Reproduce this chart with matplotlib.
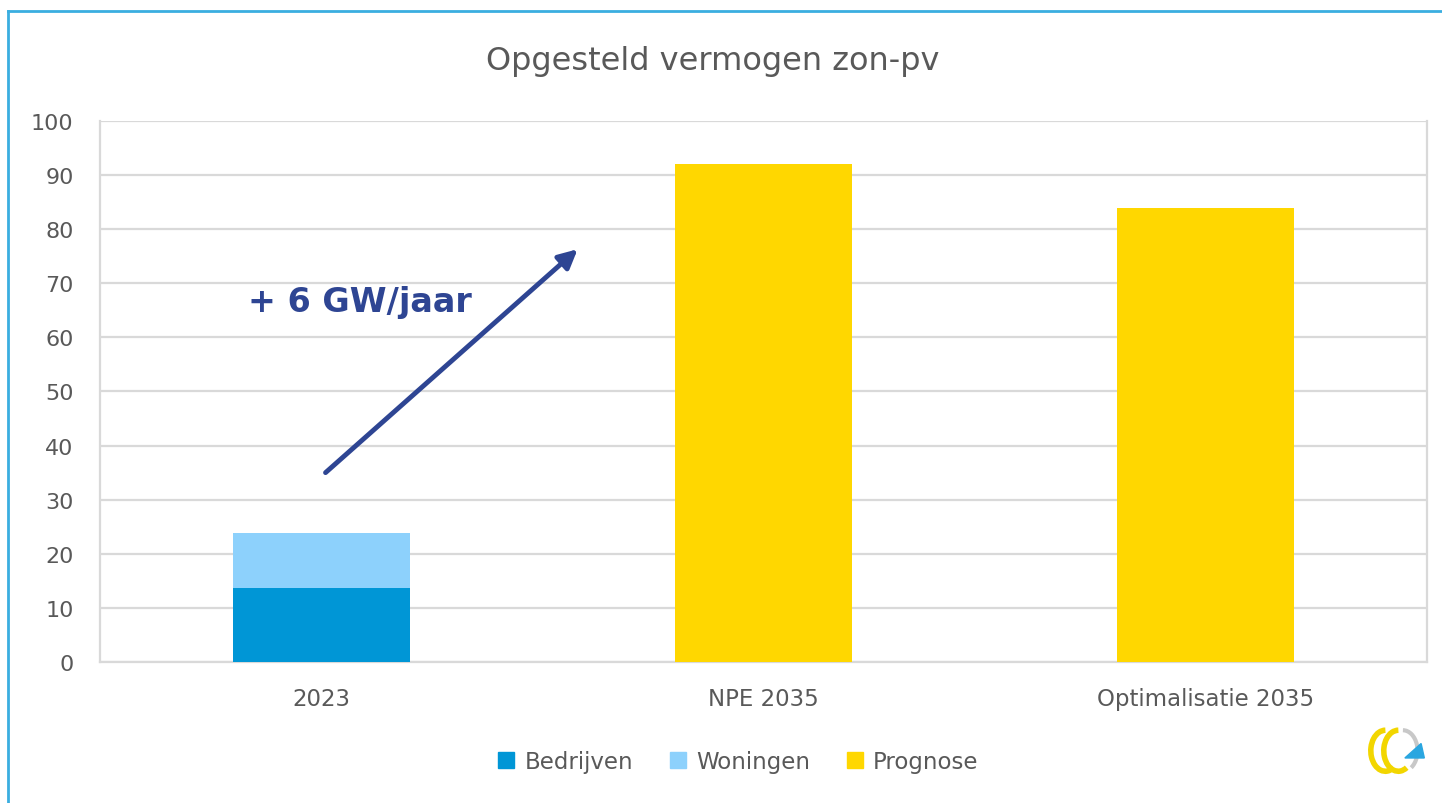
import matplotlib
matplotlib.use('Agg')
import matplotlib.pyplot as plt
import matplotlib.patches as mpatches
from matplotlib.lines import Line2D

categories = ['2023', 'NPE 2035', 'Optimalisatie 2035']
bedrijven = [13.6, 0, 0]
woningen = [10.2, 0, 0]
prognose = [0, 92.0, 84.0]
yticks = list(range(0, 101, 10))

arrow_start = (0.01, 35.0)
arrow_end = (0.58, 76.3)
arrow_text = '+ 6 GW/jaar'

grey = '#595959'
plt.rcParams['font.family'] = ['DejaVu Sans']

fig = plt.figure(figsize=(14.42, 8.04), dpi=100)
ax = fig.add_axes([0.0693, 0.1754, 0.9203, 0.6729])

x = range(len(categories))
ax.bar(x, bedrijven, width=0.4, color='#0096D6', label='Bedrijven', zorder=3)
ax.bar(x, woningen, width=0.4, bottom=bedrijven, color='#8DD1FC', label='Woningen', zorder=3)
ax.bar(x, prognose, width=0.4, color='#FFD700', label='Prognose', zorder=3)

ax.set_xlim(-0.5, 2.5)
ax.set_ylim(0, 100)
ax.set_yticks(yticks)
ax.set_xticks(list(x))
ax.set_xticklabels(categories)
ax.tick_params(axis='both', length=0, labelcolor=grey)
ax.tick_params(axis='y', pad=19, labelsize=16)
ax.tick_params(axis='x', pad=18, labelsize=16.5)
ax.yaxis.grid(True, color='#D9D9D9', linewidth=1.6, zorder=0)
for s in ax.spines.values():
    s.set_color('#D9D9D9')
    s.set_linewidth(1.6)
ax.spines['top'].set_visible(False)

ax.annotate('', xy=arrow_end, xytext=arrow_start,
            arrowprops=dict(arrowstyle='-|>', color='#2E4593', lw=3.5, mutation_scale=28,
                            shrinkA=0, shrinkB=0), zorder=4)
ax.text(-0.165, 66.6, arrow_text, fontsize=24, fontweight='bold', color='#2E4593',
        va='center', ha='left', zorder=4)

fig.text(0.4945, 0.923, 'Opgesteld vermogen zon-pv', ha='center', va='center',
         fontsize=23, color=grey)

handles = [mpatches.Patch(color='#0096D6', label='Bedrijven'),
           mpatches.Patch(color='#8DD1FC', label='Woningen'),
           mpatches.Patch(color='#FFD700', label='Prognose')]
fig.legend(handles=handles, loc='center', bbox_to_anchor=(0.512, 0.052), ncol=3,
           frameon=False, fontsize=16.5, labelcolor=grey, handlelength=0.7, handleheight=0.7,
           handletextpad=0.45, columnspacing=1.6)

# light blue frame around the slide
fig.add_artist(Line2D([0.0055, 1.0], [0.985, 0.985], color='#3AAEE0', lw=2))
fig.add_artist(Line2D([0.0055, 0.0055], [0.0, 0.985], color='#3AAEE0', lw=2))

# small logo at bottom right
lax = fig.add_axes([0.945, 0.035, 0.045, 0.06])
lax.set_xlim(0, 1)
lax.set_ylim(0, 1)
lax.axis('off')
lax.add_patch(mpatches.Arc((0.35, 0.5), 0.45, 0.85, theta1=90, theta2=290, color='#F2D600', lw=4))
lax.add_patch(mpatches.Arc((0.55, 0.5), 0.45, 0.85, theta1=90, theta2=290, color='#F2D600', lw=4))
lax.add_patch(mpatches.Arc((0.62, 0.5), 0.45, 0.85, theta1=-70, theta2=90, color='#C8C8C8', lw=3))
lax.add_patch(mpatches.Polygon([[0.65, 0.35], [0.95, 0.35], [0.9, 0.65]], color='#2AA6E0'))

fig.savefig('out.png', dpi=100)
